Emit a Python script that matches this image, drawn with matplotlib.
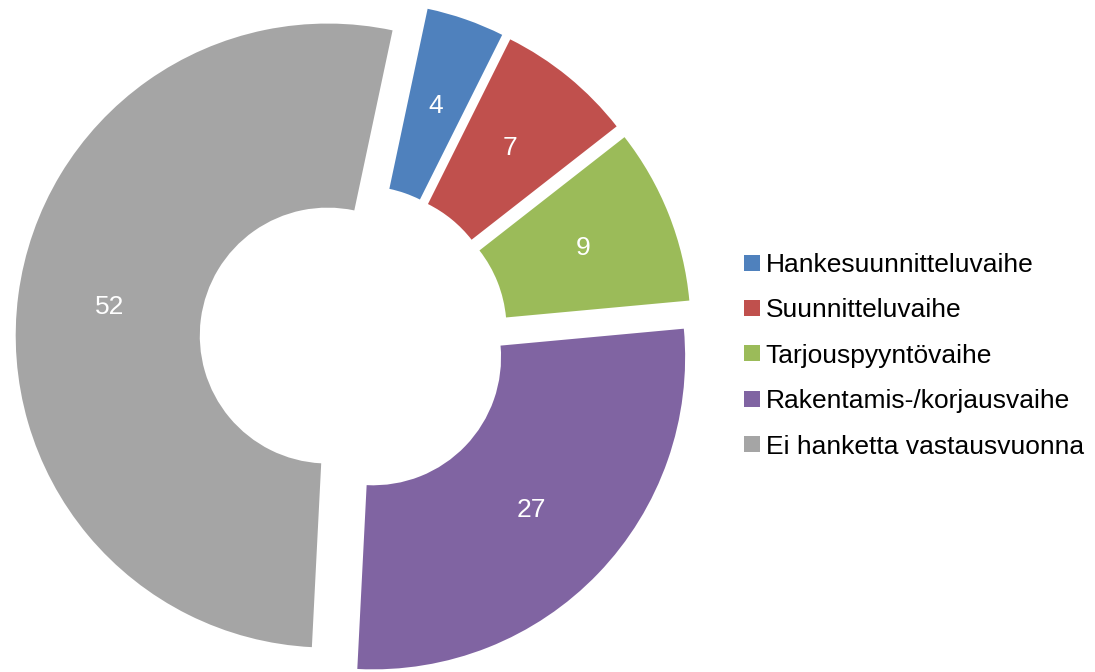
import matplotlib
matplotlib.use("Agg")
import matplotlib.pyplot as plt

categories = ["Hankesuunnitteluvaihe", "Suunnitteluvaihe", "Tarjouspyyntövaihe",
              "Rakentamis-/korjausvaihe", "Ei hanketta vastausvuonna"]
values = [4, 7, 9, 27, 52]
colors = ["#4F81BD", "#C0504D", "#9BBB59", "#8064A2", "#A5A5A5"]

plt.rcParams['font.family'] = ['Liberation Sans', 'DejaVu Sans']

W, H = 1095, 672
fig = plt.figure(figsize=(W / 100, H / 100), dpi=100)

# pie centre and radius in pixels
cx, cy, R = 354, 339, 312
L = 1.12
ax = fig.add_axes([(cx - L * R) / W, (H - cy - L * R) / H, 2 * L * R / W, 2 * L * R / H])

total = sum(values)
wedges, texts, autotexts = ax.pie(
    values, colors=colors, startangle=78, counterclock=False,
    explode=[0.085] * len(values), radius=1.0,
    wedgeprops=dict(width=0.59, linewidth=0),
    autopct=lambda p: f"{round(p * total / 100):.0f}", pctdistance=0.705,
    textprops=dict(color="white", fontsize=19))
ax.set_xlim(-L, L)
ax.set_ylim(-L, L)
ax.set_aspect("equal")
ax.axis("off")

fig.legend(wedges, categories, loc="upper left", bbox_to_anchor=(744 / W, 1 - 253 / H),
           frameon=False, fontsize=19, handlelength=0.62, handleheight=0.55,
           handletextpad=0.2, labelspacing=0.81, borderpad=0, borderaxespad=0)

fig.savefig("out.png", dpi=100)
